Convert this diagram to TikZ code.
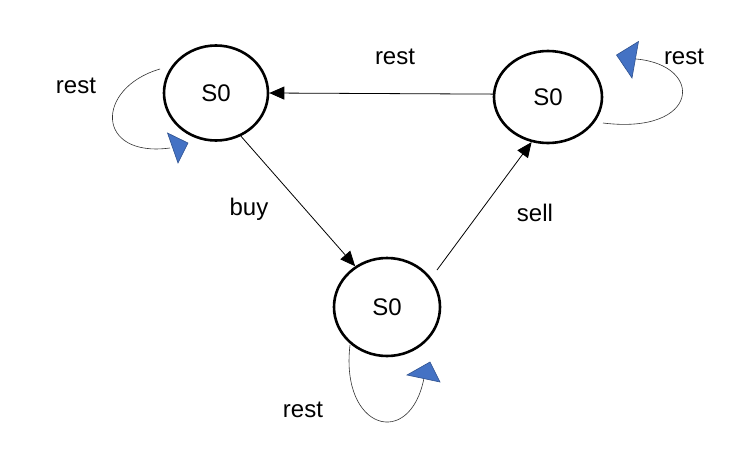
\documentclass[tikz,border=0pt]{standalone}
\usepackage{fontspec}
\setmainfont{Liberation Sans}
\usetikzlibrary{shapes.geometric,arrows.meta}
\definecolor{tipblue}{HTML}{4472C4}
\definecolor{tipedge}{HTML}{2F528F}
\tikzset{
  state/.style={ellipse, draw=black, line width=2.6pt, inner sep=0pt,
    font=\fontsize{24}{28}\selectfont},
  lbl/.style={font=\fontsize{24}{28}\selectfont, inner sep=0pt},
  trans/.style={draw=black, line width=0.8pt,
    -{Triangle[length=15pt,width=13pt]}},
  loopline/.style={draw=black!80, line width=0.6pt},
  looptip/.style={fill=tipblue, draw=tipedge, line width=0.6pt, line join=miter}
}
\begin{document}
\begin{tikzpicture}[x=1pt,y=-1pt]
  \fill[white] (0,0) rectangle (747,453);
  \useasboundingbox (0,0) rectangle (747,453);

  % states
  \node[state, minimum width=104pt, minimum height=95pt] (tl) at (216,93) {S0};
  \node[state, minimum width=108pt, minimum height=92pt] (tr) at (548,97) {S0};
  \node[state, minimum width=106pt, minimum height=98pt] (bot) at (387,307) {S0};

  % transitions
  \coordinate (sellstart) at ([shift={(50,-37)}]bot.center);
  \draw[trans] (tr.177) -- (tl.0);
  \draw[trans] (tl.-60) -- (bot.128);
  \draw[trans] (sellstart) -- (tr.250);

  % transition labels
  \node[lbl] (lrest) at (395,57) {rest};
  \node[lbl] (lbuy) at (249,209) {buy};
  \node[lbl] (lsell) at (535,213) {sell};

  % self loop on the upper left state
  \draw[loopline] ([shift={(-56,-24)}]tl.center)
    .. controls ([shift={(-121,-5)}]tl.center) and ([shift={(-121,65)}]tl.center)
    .. ([shift={(-46,55)}]tl.center);
  \draw[looptip] ([shift={(-48.5,40)}]tl.center) -- ([shift={(-28,50)}]tl.center)
    -- ([shift={(-38,70)}]tl.center) -- cycle;
  \node[lbl] (ltl) at (76,86) {rest};

  % self loop on the upper right state
  \draw[loopline] ([shift={(55,26)}]tr.center)
    .. controls ([shift={(152,38)}]tr.center) and ([shift={(157,-32)}]tr.center)
    .. ([shift={(88,-38)}]tr.center);
  \draw[looptip] ([shift={(68.5,-42)}]tr.center) -- ([shift={(90.5,-55.5)}]tr.center)
    -- ([shift={(84,-19)}]tr.center) -- cycle;
  \node[lbl] (ltr) at (684,57) {rest};

  % self loop on the lower state
  \draw[loopline] ([shift={(-37,38)}]bot.center)
    .. controls ([shift={(-47,123)}]bot.center) and ([shift={(23,143)}]bot.center)
    .. ([shift={(37,71)}]bot.center);
  \draw[looptip] ([shift={(20,68)}]bot.center) -- ([shift={(43,55)}]bot.center)
    -- ([shift={(53,75)}]bot.center) -- cycle;
  \node[lbl] (lbot) at (303,410) {rest};
\end{tikzpicture}
\end{document}
